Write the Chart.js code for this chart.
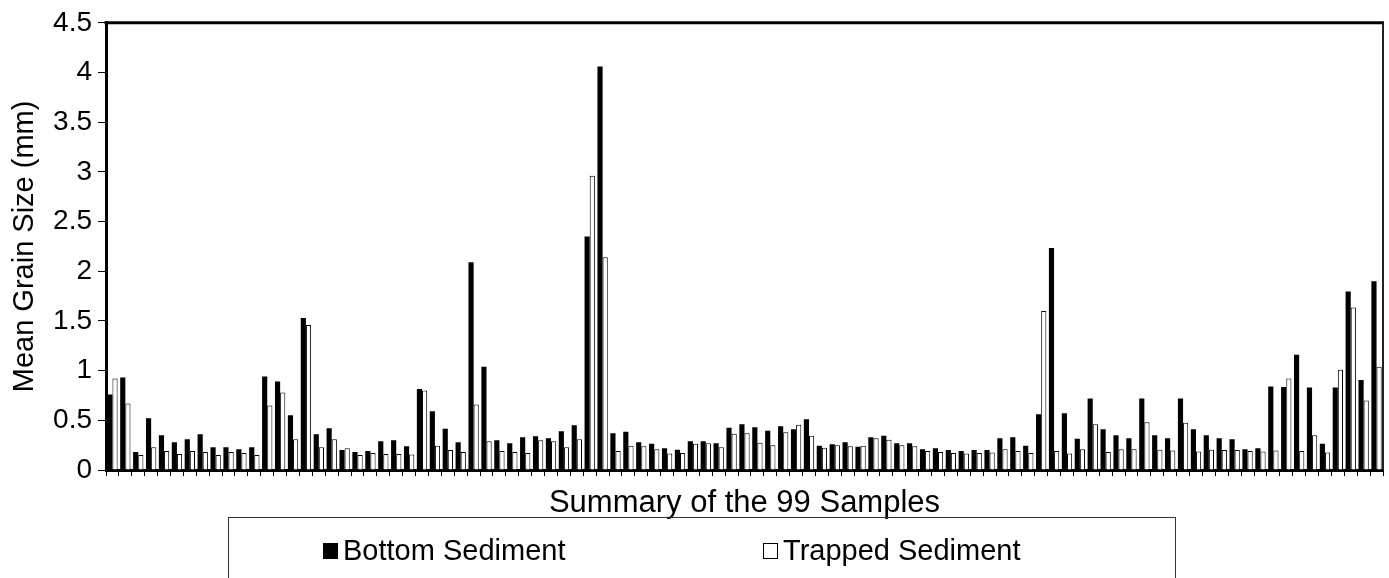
<!DOCTYPE html>
<html>
<head>
<meta charset="utf-8">
<script src="https://cdn.jsdelivr.net/npm/chart.js@4.4.0/dist/chart.umd.min.js"></script>
<style>
  html, body { margin: 0; padding: 0; background: #fff; }
  #wrap { width: 1389px; height: 578px; }
</style>
</head>
<body>
<div id="wrap"><canvas id="grainChart" width="1389" height="578"></canvas></div>
<script>
// Sample numbers along the x axis (labels are not shown, only the tick marks)
const samples = Array.from({ length: 99 }, (_, i) => String(i + 1));

// Mean grain size (mm)
const bottomSediment = [
  0.76, 0.93, 0.18, 0.52, 0.35, 0.28, 0.31, 0.36, 0.23, 0.23,
  0.21, 0.23, 0.94, 0.89, 0.55, 1.53, 0.36, 0.42, 0.20, 0.18,
  0.19, 0.29, 0.30, 0.24, 0.815, 0.59, 0.415, 0.28, 2.09, 1.04,
  0.30, 0.27, 0.33, 0.34, 0.32, 0.39, 0.45, 2.35, 4.06, 0.37,
  0.385, 0.28, 0.265, 0.22, 0.205, 0.29, 0.29, 0.27, 0.425, 0.46,
  0.43, 0.395, 0.44, 0.41, 0.51, 0.245, 0.26, 0.28, 0.235, 0.33,
  0.345, 0.27, 0.27, 0.21, 0.22, 0.20, 0.19, 0.20, 0.20, 0.32,
  0.33, 0.245, 0.56, 2.235, 0.57, 0.315, 0.72, 0.41, 0.35, 0.32,
  0.72, 0.35, 0.32, 0.72, 0.41, 0.35, 0.32, 0.31, 0.21, 0.22,
  0.84, 0.835, 1.16, 0.83, 0.265, 0.83, 1.795, 0.905, 1.90
];
const trappedSediment = [
  0.92, 0.67, 0.15, 0.23, 0.19, 0.16, 0.19, 0.18, 0.15, 0.18,
  0.17, 0.15, 0.65, 0.78, 0.31, 1.46, 0.23, 0.31, 0.22, 0.15,
  0.17, 0.16, 0.16, 0.155, 0.80, 0.245, 0.20, 0.18, 0.66, 0.29,
  0.19, 0.18, 0.17, 0.30, 0.29, 0.23, 0.31, 2.96, 2.14, 0.19,
  0.245, 0.24, 0.21, 0.165, 0.17, 0.265, 0.27, 0.23, 0.365, 0.37,
  0.275, 0.25, 0.38, 0.455, 0.345, 0.225, 0.25, 0.24, 0.245, 0.32,
  0.305, 0.25, 0.24, 0.19, 0.18, 0.17, 0.165, 0.17, 0.175, 0.21,
  0.19, 0.17, 1.60, 0.19, 0.165, 0.21, 0.46, 0.18, 0.21, 0.21,
  0.48, 0.205, 0.195, 0.475, 0.185, 0.205, 0.20, 0.20, 0.19, 0.185,
  0.195, 0.92, 0.19, 0.35, 0.175, 1.01, 1.635, 0.70, 1.04
];

// y axis tick labels
const yTickLabels = ['0', '0.5', '1', '1.5', '2', '2.5', '3', '3.5', '4', '4.5'];

Chart.defaults.font.family = '"Liberation Sans", Arial, sans-serif';
Chart.defaults.color = '#000';

// Draws the top/right frame of the plot area and the boxed legend under the x title
const frameAndLegend = {
  id: 'frameAndLegend',
  afterDraw(chart) {
    const { ctx, chartArea: a } = chart;
    ctx.save();
    ctx.strokeStyle = '#000';
    ctx.lineWidth = 3;
    ctx.beginPath();
    ctx.moveTo(a.left - 1.5, a.top);
    ctx.lineTo(a.right + 1, a.top);
    ctx.stroke();
    ctx.lineWidth = 2;
    ctx.strokeStyle = '#222';
    ctx.beginPath();
    ctx.moveTo(a.right, a.top);
    ctx.lineTo(a.right, a.bottom);
    ctx.stroke();

    // legend box (bottom edge runs off the canvas like in the original)
    ctx.lineWidth = 1;
    ctx.strokeStyle = '#333';
    ctx.strokeRect(228.5, 517.5, 947, 90);

    const itemX = [323, 763];
    ctx.font = '29px "Liberation Sans", Arial, sans-serif';
    ctx.textBaseline = 'middle';
    ctx.textAlign = 'left';
    chart.data.datasets.forEach((ds, i) => {
      const x = itemX[i];
      ctx.fillStyle = ds.backgroundColor;
      ctx.fillRect(x, 543, 15, 16);
      ctx.strokeStyle = '#000';
      ctx.lineWidth = 1;
      ctx.strokeRect(x + 0.5, 543.5, 14, 15);
      ctx.fillStyle = '#000';
      ctx.fillText(ds.label, x + 20, 552);
    });
    ctx.restore();
  }
};

const ctx = document.getElementById('grainChart').getContext('2d');
const grainChart = new Chart(ctx, {
  type: 'bar',
  data: {
    labels: samples,
    datasets: [
      {
        label: 'Bottom Sediment',
        data: bottomSediment,
        backgroundColor: '#000',
        borderColor: '#000',
        borderWidth: 0
      },
      {
        label: 'Trapped Sediment',
        data: trappedSediment,
        backgroundColor: '#fff',
        borderColor: '#000',
        borderWidth: 1
      }
    ]
  },
  options: {
    responsive: false,
    animation: false,
    devicePixelRatio: 1,
    layout: { padding: { top: 21, right: 6, bottom: 48, left: 0 } },
    datasets: {
      bar: { barPercentage: 1.0, categoryPercentage: 0.8 }
    },
    scales: {
      x: {
        grid: {
          display: true,
          drawOnChartArea: false,
          drawTicks: true,
          tickLength: 6,
          tickColor: '#000',
          tickWidth: 1,
          offset: true
        },
        border: { display: true, color: '#000', width: 3 },
        ticks: { display: false },
        title: {
          display: true,
          text: 'Summary of the 99 Samples',
          font: { size: 31 },
          padding: { top: 0, bottom: 8 }
        },
        afterFit(scale) { scale.height = 60; }
      },
      y: {
        min: 0,
        max: 4.5,
        ticks: {
          stepSize: 0.5,
          padding: 6,
          font: { size: 28 },
          callback: (value, index) => yTickLabels[index]
        },
        grid: {
          display: true,
          drawOnChartArea: false,
          drawTicks: true,
          tickLength: 8,
          tickColor: '#000',
          tickWidth: 1
        },
        border: { display: true, color: '#000', width: 3 },
        title: {
          display: true,
          text: 'Mean Grain Size (mm)',
          font: { size: 29 },
          padding: { top: 8, bottom: 0 }
        },
        afterFit(scale) { scale.width = 106; }
      }
    },
    plugins: {
      legend: { display: false },
      tooltip: { enabled: false }
    }
  },
  plugins: [frameAndLegend]
});
</script>
</body>
</html>
